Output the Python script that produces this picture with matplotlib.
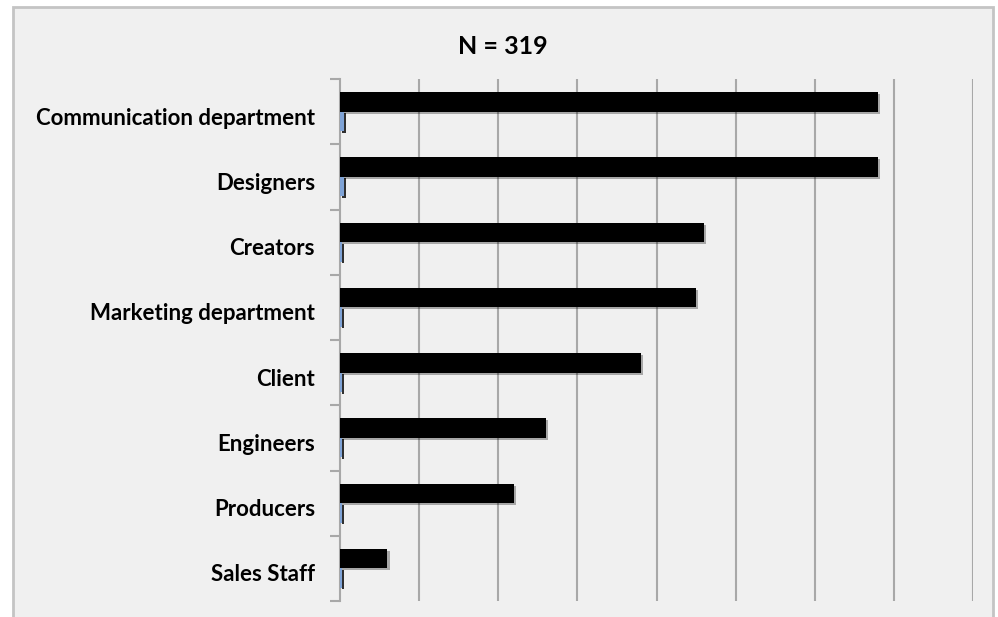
import matplotlib
matplotlib.use("Agg")
import matplotlib.pyplot as plt
import matplotlib.patheffects as pe
from matplotlib.patches import Rectangle
import numpy as np

# data (percent of respondents)
categories = ["Communication department", "Designers", "Creators", "Marketing department",
              "Client", "Engineers", "Producers", "Sales Staff"]
main_values = [68, 68, 46, 45, 38, 26, 22, 6]
second_values = [0.5, 0.5, 0.3, 0.3, 0.3, 0.3, 0.3, 0.3]
title = "N = 319"

plt.rcParams['font.family'] = ['Lato', 'DejaVu Sans']

fig = plt.figure(figsize=(9.98, 6.17), dpi=100)
fig.patch.set_facecolor('white')

# chart area frame (drawn behind the axes)
frame = Rectangle((13 / 998, -0.02), 980 / 998, 1.02 - 7 / 617, transform=fig.transFigure,
                  facecolor='#f0f0f0', edgecolor='#c4c4c4', linewidth=2, zorder=-10)
fig.patches.append(frame)

ax = fig.add_axes([340 / 998, 1 - 601 / 617, (973 - 340) / 998, (601 - 79) / 617])
ax.set_facecolor('none')

y = np.arange(len(categories))
bars = ax.barh(y - 0.15, main_values, height=0.3, color='black', zorder=3)
for b in bars:
    b.set_path_effects([pe.SimplePatchShadow(offset=(1.5, -1.5), alpha=0.3), pe.Normal()])
small = ax.barh(y + 0.15, second_values, height=0.3, color='#7fa3d6', zorder=3)
for b in small:
    b.set_path_effects([pe.SimplePatchShadow(offset=(1.5, -1), shadow_rgbFace='black', alpha=0.8),
                        pe.Normal()])

ax.set_xlim(0, 80)
ax.set_ylim(len(categories) - 0.5, -0.5)
ax.set_xticks(np.arange(10, 81, 10))
ax.tick_params(axis='x', length=0, labelbottom=False)
ax.grid(axis='x', color='#a8a8a8', linewidth=1.5, zorder=1)

# labels sit a little below the band centre, like in the original
ax.set_yticks(y + 0.07)
ax.set_yticklabels(categories, fontsize=16, fontweight='bold')
ax.tick_params(axis='y', which='major', length=0, pad=18)
ax.set_yticks(np.arange(-0.5, len(categories)), minor=True)
ax.tick_params(axis='y', which='minor', length=7, color='#a8a8a8', width=1.5, direction='out')

for s in ['top', 'right', 'bottom']:
    ax.spines[s].set_visible(False)
ax.spines['left'].set_color('#a8a8a8')
ax.spines['left'].set_linewidth(1.5)

fig.text(503 / 998, 1 - 46 / 617, title, ha='center', va='center', fontsize=18, fontweight='bold')

fig.savefig('out.png', dpi=100)
